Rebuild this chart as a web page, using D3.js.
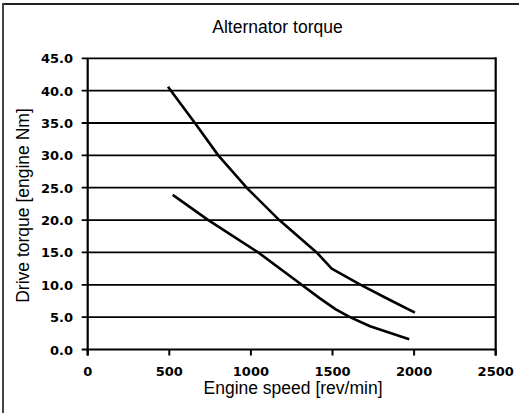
<!DOCTYPE html>
<html lang="en">
  <head>
    <meta charset="UTF-8">
    <title>Alternator torque</title>
    <script src="https://cdn.jsdelivr.net/npm/d3@7"></script>
    <style>
      body { margin: 0; background: #fff; }
      .grid line { stroke: #000; stroke-width: 1.8; }
      .tick-label { font-family: "DejaVu Sans", sans-serif; font-weight: bold; font-size: 13px; fill: #000; }
      .caption { font-family: "Liberation Sans", Arial, sans-serif; font-size: 17.5px; fill: #000; }
      .curve { fill: none; stroke: #000; stroke-width: 2.6; stroke-linejoin: round; }
    </style>
  </head>
  <body>
    <svg id="chart"></svg>

    <script>
      // values
      var xTicks = [0, 500, 1000, 1500, 2000, 2500];
      var yTicks = [0, 5, 10, 15, 20, 25, 30, 35, 40, 45];

      // upper curve
      var upperSpeed  = [492, 657, 800, 974, 1174, 1403, 1495, 1673, 1840, 2005];
      var upperTorque = [40.6, 35.0, 30.0, 25.0, 20.0, 15.0, 12.5, 10.0, 7.8, 5.7];

      // lower curve
      var lowerSpeed  = [521, 739, 1045, 1311, 1423, 1520, 1607, 1730, 1970];
      var lowerTorque = [23.9, 20.0, 15.0, 10.0, 7.9, 6.2, 5.0, 3.6, 1.6];

      var width = 519, height = 413;
      var svg = d3.select("#chart").attr("width", width).attr("height", height);

      var x = d3.scaleLinear().domain([0, 2500]).range([87.7, 495.7]);
      var y = d3.scaleLinear().domain([0, 45]).range([349.5, 58.3]);

      // outer frame (only top and left edge show in the scan)
      svg.append("line").attr("x1", 3).attr("y1", 4).attr("x2", width).attr("y2", 4)
        .attr("stroke", "#222").attr("stroke-width", 2);
      svg.append("line").attr("x1", 3).attr("y1", 3).attr("x2", 3).attr("y2", height)
        .attr("stroke", "#444").attr("stroke-width", 2);

      // horizontal gridlines
      svg.append("g").attr("class", "grid")
        .selectAll("line")
        .data(yTicks)
        .enter().append("line")
        .attr("x1", x(0) - 6)
        .attr("x2", x(2500))
        .attr("y1", function(d) { return y(d); })
        .attr("y2", function(d) { return y(d); });

      // axis frame: left axis and right edge, both run a bit past zero
      svg.append("line").attr("x1", x(0)).attr("x2", x(0)).attr("y1", y(45)).attr("y2", y(0) + 6)
        .attr("stroke", "#000").attr("stroke-width", 2.2);
      svg.append("line").attr("x1", x(2500)).attr("x2", x(2500)).attr("y1", y(45) - 1).attr("y2", y(0) + 6)
        .attr("stroke", "#000").attr("stroke-width", 2.2);

      // x ticks
      svg.append("g")
        .selectAll("line")
        .data(xTicks)
        .enter().append("line")
        .attr("x1", function(d) { return x(d); })
        .attr("x2", function(d) { return x(d); })
        .attr("y1", y(0))
        .attr("y2", y(0) + 6)
        .attr("stroke", "#000").attr("stroke-width", 2);

      svg.append("g")
        .selectAll("text")
        .data(xTicks)
        .enter().append("text")
        .attr("class", "tick-label")
        .attr("x", function(d) { return x(d); })
        .attr("y", y(0) + 26)
        .attr("text-anchor", "middle")
        .text(function(d) { return d; });

      svg.append("g")
        .selectAll("text")
        .data(yTicks)
        .enter().append("text")
        .attr("class", "tick-label")
        .attr("x", 73)
        .attr("y", function(d) { return y(d) + 5; })
        .attr("text-anchor", "end")
        .text(function(d) { return d.toFixed(1); });

      // the two torque curves
      var line = d3.line()
        .x(function(d) { return x(d[0]); })
        .y(function(d) { return y(d[1]); });

      svg.append("path").attr("class", "curve")
        .attr("d", line(d3.zip(upperSpeed, upperTorque)));
      svg.append("path").attr("class", "curve")
        .attr("d", line(d3.zip(lowerSpeed, lowerTorque)));

      // title and axis captions
      svg.append("text").attr("class", "caption")
        .attr("x", 277.5).attr("y", 33)
        .attr("text-anchor", "middle")
        .text("Alternator torque");

      svg.append("text").attr("class", "caption")
        .attr("x", 293).attr("y", 394)
        .attr("text-anchor", "middle")
        .text("Engine speed [rev/min]");

      svg.append("text").attr("class", "caption")
        .attr("transform", "translate(29,205.5) rotate(-90)")
        .attr("text-anchor", "middle")
        .text("Drive torque [engine Nm]");
    </script>
  </body>
</html>
